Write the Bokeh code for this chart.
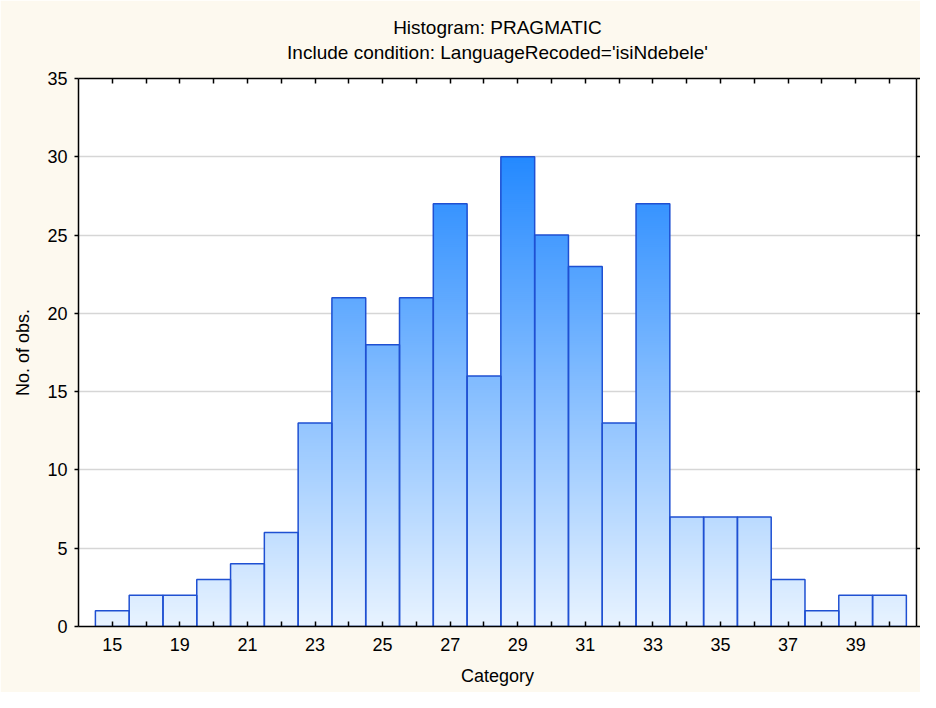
import numpy as np
from bokeh.plotting import figure
from bokeh.models import (LinearAxis, FixedTicker, Title, Range1d, ColumnDataSource)
from bokeh.embed import file_html
from bokeh.resources import INLINE

# ---- data ----
bar_centers = [17, 18, 19, 20, 21, 22, 23, 24, 25, 26, 27, 28,
               29, 30, 31, 32, 33, 34, 35, 36, 37, 38, 39, 40]
counts = [1, 2, 2, 3, 4, 6, 13, 21, 18, 21, 27, 16,
          30, 25, 23, 13, 27, 7, 7, 7, 3, 1, 2, 2]
tick_positions = [17, 19, 21, 23, 25, 27, 29, 31, 33, 35, 37, 39]
tick_labels = ["15", "19", "21", "23", "25", "27", "29", "31", "33", "35", "37", "39"]
y_ticks = [0, 5, 10, 15, 20, 25, 30, 35]
title_lines = ["Histogram: PRAGMATIC",
               "Include condition: LanguageRecoded='isiNdebele'"]

FONT = "Liberation Sans"
BORDER_BG = "#fdf9ef"

p = figure(width=920, height=692, output_backend="svg", toolbar_location=None,
           x_range=Range1d(16.0, 40.8), y_range=Range1d(0, 35),
           x_axis_location=None, y_axis_location=None,
           min_border_left=78, min_border_right=4, min_border_top=78, min_border_bottom=66)
p.title = None
p.border_fill_color = BORDER_BG
p.background_fill_color = "white"
p.outline_line_color = None

# ---- gradient bars (nested rects, drawn from top level down) ----
dy = 0.125
lo = np.array([232, 243, 255], dtype=float)
hi = np.array([36, 137, 255], dtype=float)
L, R, T, C = [], [], [], []
levels = []
for c, h in zip(bar_centers, counts):
    n = int(round(h / dy))
    for k in range(n):
        ymid = (k + 0.5) * dy
        levels.append((k * dy + dy, c, ymid))
levels.sort(key=lambda t: -t[0])
for top_, c, ymid in levels:
    f = min(ymid / 30.0, 1.0)
    col = lo + (hi - lo) * f
    L.append(c - 0.5)
    R.append(c + 0.5)
    T.append(top_)
    C.append("#%02x%02x%02x" % tuple(int(round(v)) for v in col))
grad = ColumnDataSource(dict(left=L, right=R, top=T, bottom=[0] * len(L), color=C))
p.quad(left="left", right="right", top="top", bottom="bottom", fill_color="color",
       line_color=None, source=grad)

# outlines
src = ColumnDataSource(dict(left=[c - 0.5 for c in bar_centers],
                            right=[c + 0.5 for c in bar_centers],
                            top=counts, bottom=[0] * len(counts)))
p.quad(left="left", right="right", top="top", bottom="bottom", fill_color=None,
       line_color="#1f50d2", line_width=1.5, source=src)

# ---- grid ----
p.ygrid.ticker = FixedTicker(ticks=y_ticks)
p.ygrid.grid_line_color = "#d6d6d6"
p.ygrid.grid_line_width = 1.5
p.xgrid.grid_line_color = None

# ---- axes ----
unlabeled = [c for c in bar_centers if c not in tick_positions]
bottom = LinearAxis(ticker=FixedTicker(ticks=tick_positions, minor_ticks=unlabeled),
                    major_label_overrides=dict(zip(tick_positions, tick_labels)),
                    axis_label="Category")
bottom.major_tick_in = 5
bottom.major_tick_out = 0
bottom.minor_tick_in = 5
bottom.minor_tick_out = 0
bottom.major_label_standoff = 11
bottom.axis_label_standoff = 12

top = LinearAxis(ticker=FixedTicker(ticks=[], minor_ticks=bar_centers))
top.major_tick_in = 0
top.major_tick_out = 0
top.minor_tick_in = 5
top.minor_tick_out = 0
top.major_label_standoff = 0

left = LinearAxis(ticker=FixedTicker(ticks=y_ticks, minor_ticks=[]), axis_label="No. of obs.")
left.major_tick_in = 0
left.major_tick_out = 4
left.major_label_standoff = 7
left.axis_label_standoff = 11

right = LinearAxis(ticker=FixedTicker(ticks=[], minor_ticks=y_ticks))
right.major_tick_in = 0
right.major_tick_out = 0
right.minor_tick_in = 0
right.minor_tick_out = 4
right.major_label_standoff = 0

for ax in (bottom, top, left, right):
    ax.axis_line_color = "black"
    ax.axis_line_width = 1.5
    ax.major_tick_line_color = "black"
    ax.major_tick_line_width = 1.5
    ax.minor_tick_line_color = "black"
    ax.minor_tick_line_width = 1.5
    ax.major_label_text_font = FONT
    ax.major_label_text_color = "black"
    ax.major_label_text_font_size = "18px"
    ax.axis_label_text_font = FONT
    ax.axis_label_text_font_style = "normal"
    ax.axis_label_text_font_size = "18px"
    ax.axis_label_text_color = "black"
left.minor_tick_line_color = None

p.add_layout(bottom, "below")
p.add_layout(top, "above")
p.add_layout(left, "left")
p.add_layout(right, "right")

# ---- two-line title ----
title = Title(text="\n".join(title_lines), align="center",
              text_font=FONT, text_font_size="19px", text_font_style="normal",
              text_line_height=1.2, text_color="black", standoff=30)
try:
    title.text_align = "center"
except AttributeError:
    pass
p.add_layout(title, "above")

open("out.html", "w").write(file_html(p, INLINE))
